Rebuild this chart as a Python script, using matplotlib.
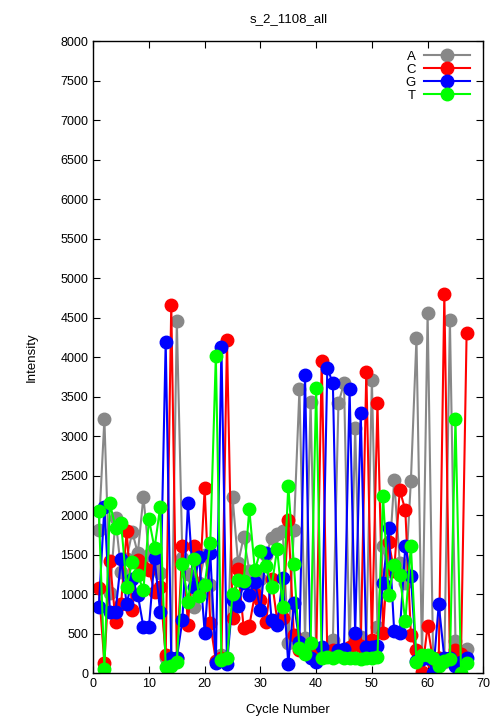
import matplotlib
matplotlib.use("Agg")
import matplotlib.pyplot as plt

plt.rcParams['font.family'] = ['Liberation Sans', 'DejaVu Sans']

cycles = list(range(1, 68))

# intensities per cycle
A = [1815, 3220, 1015, 1965, 1290, 1450, 1795, 1520, 2240, 1500,
     1350, 1270, 200, 150, 4460, 1460, 1260, 845, 1150, 1500,
     1120, 160, 230, 200, 2230, 1395, 1730, 1300, 1100, 1200,
     1500, 1710, 1765, 1800, 380, 1815, 3600, 450, 3440, 250,
     300, 300, 425, 3420, 3675, 280, 3105, 460, 400, 3715,
     590, 1610, 1300, 2450, 1400, 1150, 2440, 4245, 200, 4565,
     150, 200, 150, 4480, 410, 250, 310]
C = [1080, 130, 1430, 655, 880, 1805, 805, 1435, 1350, 1310,
     1035, 1100, 235, 4670, 200, 1615, 620, 1615, 1000, 2345,
     635, 160, 200, 4220, 700, 1320, 570, 600, 1000, 930,
     655, 1200, 680, 700, 1945, 485, 300, 275, 250, 200,
     3960, 250, 300, 250, 250, 330, 400, 350, 3820, 430,
     3420, 515, 1670, 1300, 2320, 2070, 490, 300, 20, 600,
     150, 200, 4800, 200, 300, 250, 4310]
G = [845, 2110, 780, 780, 1445, 875, 1200, 995, 590, 590,
     1460, 780, 4200, 195, 195, 675, 2155, 1100, 1470, 515,
     1520, 130, 4135, 120, 930, 855, 1150, 995, 1160, 805,
     1530, 680, 620, 1205, 115, 890, 400, 3780, 200, 150,
     330, 3865, 3675, 300, 310, 3600, 510, 3300, 340, 340,
     350, 1140, 1840, 535, 515, 1610, 1230, 155, 180, 200,
     10, 875, 200, 200, 100, 150, 190]
T = [2060, 55, 2155, 1840, 1900, 1100, 1415, 1245, 1055, 1950,
     1585, 2105, 85, 100, 150, 1390, 910, 1445, 980, 1120,
     1655, 4020, 175, 190, 1010, 1185, 1170, 2080, 1310, 1550,
     1360, 1100, 1575, 845, 2375, 1385, 320, 250, 385, 3610,
     200, 210, 200, 220, 200, 190, 200, 180, 190, 200,
     210, 2250, 995, 1370, 1250, 660, 1620, 140, 240, 240,
     200, 100, 155, 180, 3215, 10, 130]

series = [("A", A, "#888888"), ("C", C, "#ff0000"),
          ("G", G, "#0000ff"), ("T", T, "#00ff00")]

fig = plt.figure(figsize=(5.04, 7.2), dpi=100)
ax = fig.add_axes([0.185, 0.0646, 0.774, 0.8778])

for name, vals, col in series:
    ax.plot(cycles, vals, color=col, lw=1.5, marker="o", ms=9,
            markeredgecolor=col, label=name)

ax.set_xlim(0, 70)
ax.set_ylim(0, 8000)
ax.set_xticks(range(0, 71, 10))
ax.set_yticks(range(0, 8001, 500))
ax.tick_params(direction="in", top=True, right=True, labelsize=9, length=5)
for s in ax.spines.values():
    s.set_linewidth(1)

ax.set_title("s_2_1108_all", fontsize=9.5, pad=14)
ax.set_xlabel("Cycle Number", fontsize=9.5, labelpad=10)
ax.set_ylabel("Intensity", fontsize=9.5, labelpad=16)

ax.legend(loc="upper right", frameon=False, markerfirst=False,
          fontsize=9.5, handlelength=3.5, labelspacing=0.05,
          borderaxespad=0.3, handletextpad=0.6,
          bbox_to_anchor=(0.99, 1.0))

fig.savefig("out.png", dpi=100)
